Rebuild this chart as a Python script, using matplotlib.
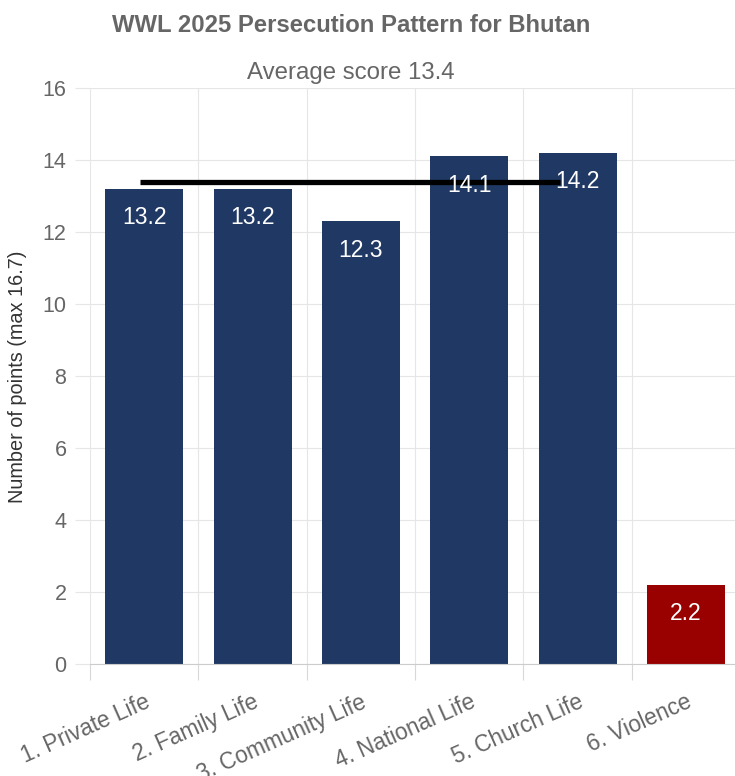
import matplotlib
matplotlib.use("Agg")
import matplotlib.pyplot as plt
import numpy as np

# WWL 2025 persecution pattern, Bhutan
categories = ["1. Private Life", "2. Family Life", "3. Community Life",
              "4. National Life", "5. Church Life", "6. Violence"]
scores = [13.2, 13.2, 12.3, 14.1, 14.2, 2.2]
average = 13.4
yticks = [0, 2, 4, 6, 8, 10, 12, 14, 16]

navy = "#203864"
red = "#990000"
grid_c = "#e6e6e6"
txt_c = "#666666"

plt.rcParams['font.family'] = ['Liberation Sans', 'DejaVu Sans']

W, H = 735, 776
fig = plt.figure(figsize=(W / 100, H / 100), dpi=100)
ax = fig.add_axes([90 / W, (H - 664) / H, 650 / W, 576 / H])

x = np.arange(len(categories))
colors = [navy] * 5 + [red]
ax.bar(x, scores, width=0.72, color=colors, zorder=2)

for xi, v in zip(x, scores):
    ax.annotate(f"{v:.1f}", (xi, v), xytext=(0, -29), textcoords="offset pixels",
                ha="center", va="center", color="white", fontsize=16.5, zorder=4)

# average line
ax.hlines(average, -0.04, 3.84, color="black", lw=3.8, zorder=3)

ax.set_xlim(-0.5, 5.5)
ax.set_ylim(0, 16)
ax.set_yticks(yticks)
ax.set_xticks(x)
ax.set_xticks(np.arange(-0.5, 6.0, 1.0), minor=True)
ax.set_xticklabels(categories, rotation=24, ha="right", rotation_mode="anchor",
                   fontsize=16.3, color=txt_c)
ax.tick_params(axis="x", which="major", length=0, pad=19)
ax.tick_params(axis="x", which="minor", length=11.5, color="#d8d8d8", width=0.8)
ax.tick_params(axis="y", length=11, color=grid_c, width=0.8, pad=6,
               labelsize=15.5, labelcolor=txt_c)

ax.grid(axis="y", color=grid_c, lw=0.8, zorder=0)
ax.grid(axis="x", which="minor", color=grid_c, lw=0.8, zorder=0)
for s in ["top", "right", "left"]:
    ax.spines[s].set_visible(False)
ax.spines["bottom"].set_color("#cccccc")
ax.spines["bottom"].set_linewidth(0.8)

fig.text(351 / W, 1 - 25 / H, "WWL 2025 Persecution Pattern for Bhutan",
         ha="center", va="center", fontsize=17.2, fontweight="bold", color=txt_c)
fig.text(351 / W, 1 - 73 / H, "Average score " + str(average),
         ha="center", va="center", fontsize=17.3, color=txt_c)
fig.text(18 / W, 1 - 377 / H, "Number of points (max 16.7)", rotation=90,
         ha="center", va="center", fontsize=14.3, color="#333333")

fig.savefig("out.png", dpi=100)
